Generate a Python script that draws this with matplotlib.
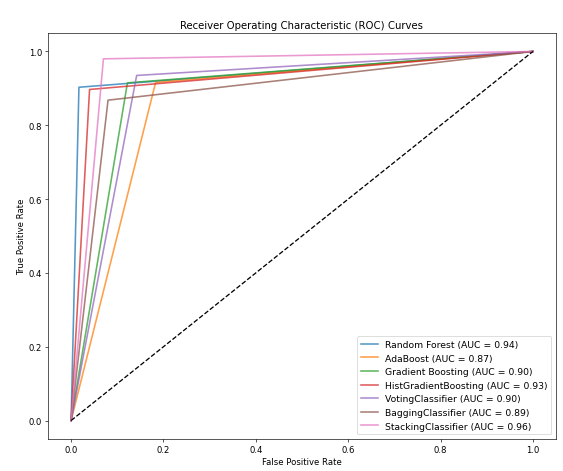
import matplotlib
matplotlib.use('Agg')
import matplotlib.pyplot as plt

# ROC points: (0,0) -> (fpr, tpr) -> (1,1)
models = ['Random Forest', 'AdaBoost', 'Gradient Boosting', 'HistGradientBoosting',
          'VotingClassifier', 'BaggingClassifier', 'StackingClassifier']
aucs = [0.94, 0.87, 0.90, 0.93, 0.90, 0.89, 0.96]
fpr_mid = [0.017, 0.183, 0.122, 0.040, 0.142, 0.080, 0.070]
tpr_mid = [0.903, 0.916, 0.915, 0.897, 0.935, 0.868, 0.980]

dpi = 58
fig = plt.figure(figsize=(563 / dpi, 472 / dpi), dpi=dpi)
ax = fig.add_axes([48 / 563, (472 - 440) / 472, 508 / 563, 406 / 472])

for name, auc, f, t in zip(models, aucs, fpr_mid, tpr_mid):
    ax.plot([0, f, 1], [0, t, 1], lw=2, alpha=0.75, label=f'{name} (AUC = {auc:.2f})')

ax.plot([0, 1], [0, 1], 'k--', lw=1.6)
ax.set_title('Receiver Operating Characteristic (ROC) Curves', fontsize=12.6)
ax.set_xlabel('False Positive Rate', fontsize=10.5)
ax.set_ylabel('True Positive Rate', fontsize=10.5)
ax.tick_params(labelsize=10.5)
ax.legend(loc='lower right', fontsize=11.5, handlelength=1.8)

fig.savefig('out.png', dpi=dpi)
